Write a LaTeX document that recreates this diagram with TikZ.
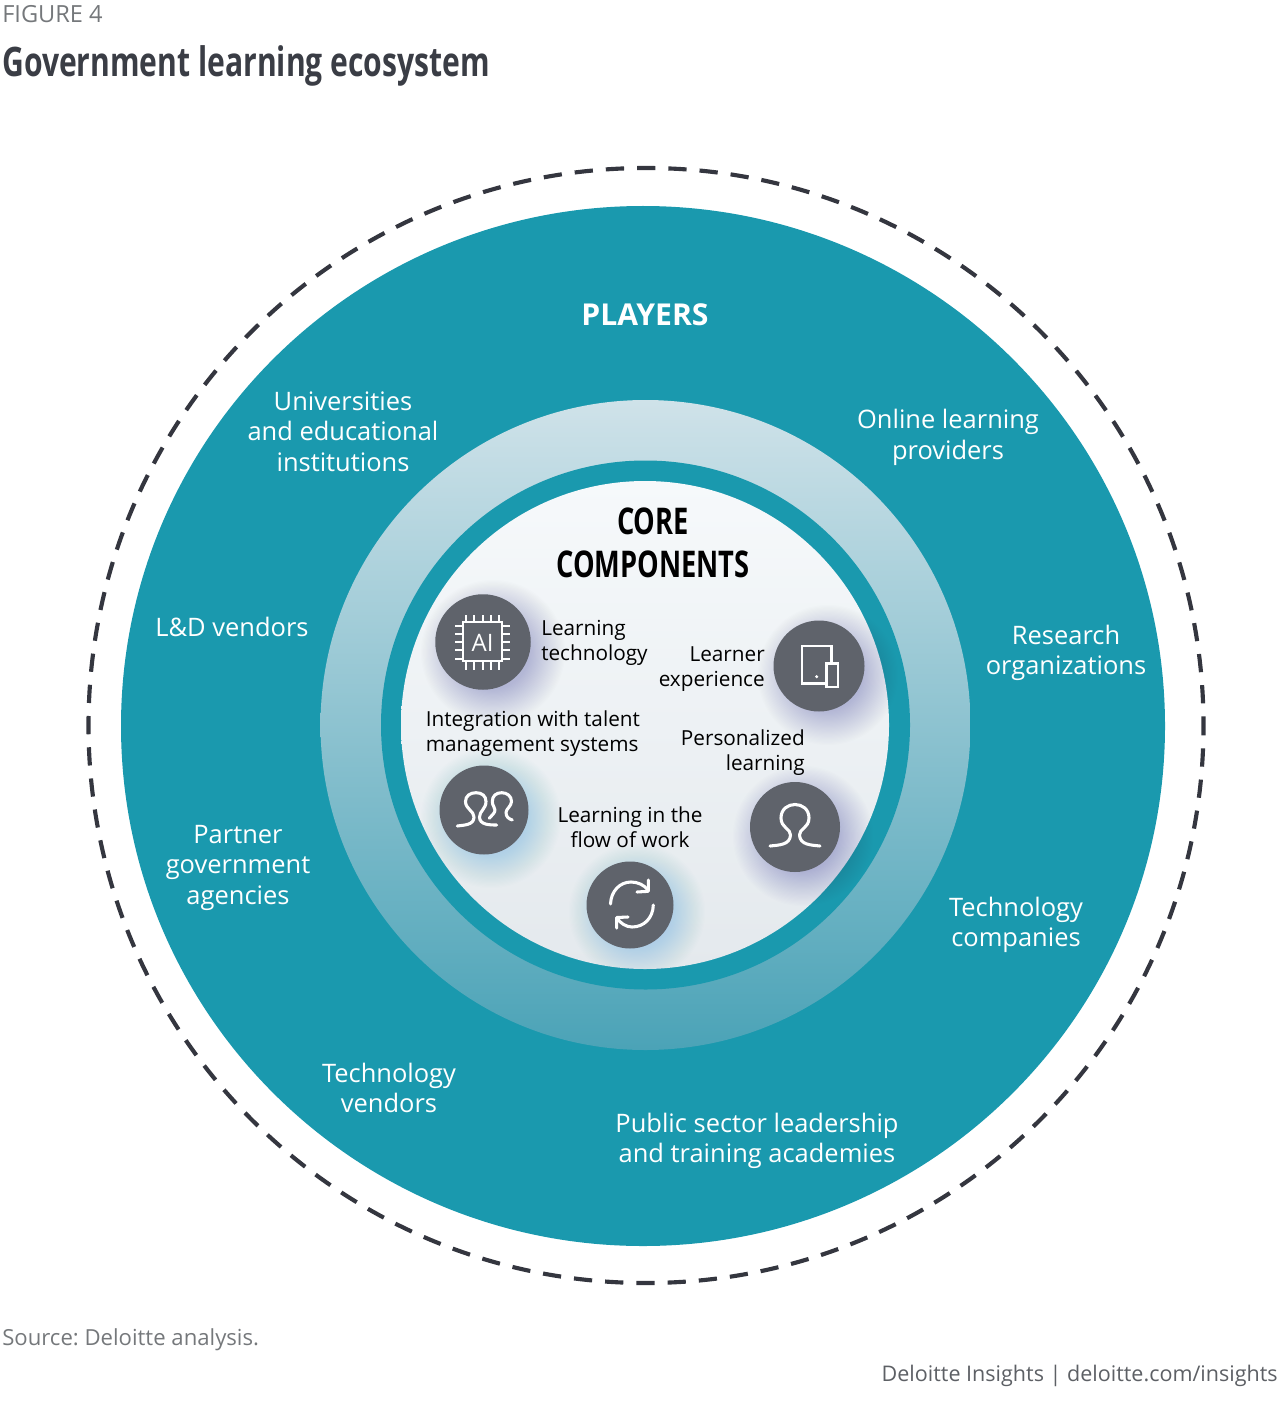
\documentclass[tikz,border=0pt]{standalone}
\usepackage{fontspec}
\setmainfont{Open Sans}
\newfontfamily\condb[FakeStretch=0.74]{Open Sans}
\frenchspacing
\definecolor{teal1}{HTML}{1A99AE}
\definecolor{iconbg}{HTML}{5F636B}
\definecolor{dashc}{HTML}{34363F}
\definecolor{titlec}{HTML}{3A3D45}
\definecolor{graytext}{HTML}{75787B}
\definecolor{credit}{HTML}{5D6065}
\definecolor{ringtop}{HTML}{CFE2E9}
\definecolor{ringbot}{HTML}{4BA3B7}
\definecolor{coretop}{HTML}{F6F9FB}
\definecolor{corebot}{HTML}{E4E9ED}
\definecolor{glowv}{HTML}{5A5A9C}
\definecolor{glowb}{HTML}{5FAEE6}
\tikzset{
  x=0.75pt,y=-0.75pt,
  player/.style={text=white,font=\fontsize{19.1}{22.9}\selectfont,align=center,inner sep=0pt},
  comp/.style={text=black,font=\fontsize{15.55}{18.6}\selectfont,inner sep=0pt},
  icon/.style={circle,fill=iconbg,draw=none,minimum size=#1*0.75pt,inner sep=0pt},
  glyph/.style={draw=white,line width=2.3pt,line cap=round,line join=round},
  thin glyph/.style={draw=white,line width=1.5pt},
}
% soft shadow: stacked translucent discs; x, y, start radius, colour
\newcommand{\glow}[4]{\foreach \gk in {1,...,30}{\fill[#4,opacity=0.013] (#1,#2) circle[radius=(#3+\gk*1.2)*0.75pt];}}
\begin{document}
\begin{tikzpicture}
\useasboundingbox (0,0) rectangle (1280,1419);
\node[anchor=west,inner sep=0pt,text=graytext,font=\fontsize{17.7}{20}\selectfont] (fig) at (2,14) {FIGURE 4};
\node[anchor=west,inner sep=0pt,text=titlec,font=\fontsize{30.5}{32}\condb\bfseries] (title) at (2,66) {Government learning ecosystem};
% discs
\draw[dashc,line width=3.1pt,dash pattern=on 13.7pt off 9.755pt,dash phase=6.85pt] (646,725.5) circle[radius=557.5*0.75pt];
\fill[teal1] (643,726) ellipse[x radius=522*0.75pt,y radius=520*0.75pt];
\shade[top color=ringtop,bottom color=ringbot] (645.5,725) circle[radius=325*0.75pt];
\fill[teal1] (645.5,725) circle[radius=264.5*0.75pt];
\shade[top color=coretop,bottom color=corebot] (645,725) circle[radius=244*0.75pt];
% labels players
\node[text=white,font=\fontsize{22.6}{24}\selectfont\bfseries,inner sep=0pt] (players) at (645,315) {PLAYERS};
\node[player] (univ) at (343,431.5) {Universities\\and educational\\institutions};
\node[player] (online) at (948,437.5) {Online learning\\providers};
\node[player] (research) at (1066,653) {Research\\organizations};
\node[player] (ld) at (232,627) {L\&D vendors};
\node[player] (partner) at (238,867.5) {Partner\\government\\agencies};
\node[player] (techco) at (1016,925) {Technology\\companies};
\node[player] (techv) at (389,1088) {Technology\\vendors};
\node[player] (public) at (757,1141) {Public sector leadership\\and training academies};
% core title
\node[align=center,text=black,font=\fontsize{27.6}{32}\condb\bfseries,inner sep=0pt] (core) at (653,543) {CORE\\COMPONENTS};
% glows
\glow{493}{652}{36}{glowv}
\glow{828}{675}{34}{glowv}
\glow{803}{836}{34}{glowv}
\glow{491}{818}{34}{glowb}
\glow{637}{912}{32}{glowb}
% icons
\node[icon=95.5] (ai) at (483,642) {};
\node[icon=91] (exp) at (819,666) {};
\node[icon=90] (pers) at (795,827) {};
\node[icon=89] (talent) at (484,810) {};
\node[icon=87] (flow) at (630,905) {};
% component labels
\node[comp,anchor=west,align=left] (l1) at (541,642.5) {Learning\\technology};
\node[comp,anchor=east,align=right] (l2) at (765,669) {Learner\\experience};
\node[comp,anchor=west,align=left] (l3) at (425.5,734) {Integration with talent\\management systems};
\node[comp,anchor=east,align=right] (l4) at (805,753) {Personalized\\learning};
\node[comp,align=center] (l5) at (630,827.5) {Learning in the\\flow of work};
% AI icon
\draw[thin glyph] (463.3,622.3) rectangle (501.5,660.7);
\node[text=white,font=\fontsize{18}{20}\selectfont,inner sep=0pt] (aitxt) at (482.5,642.5) {AI};
\foreach \k in {0,...,4}{
  \draw[thin glyph] (465.7+\k*8.4,622.3) -- (465.7+\k*8.4,614.5);
  \draw[thin glyph] (465.7+\k*8.4,660.7) -- (465.7+\k*8.4,670);
  \draw[thin glyph] (463.3,625.5+\k*8.3) -- (455,625.5+\k*8.3);
  \draw[thin glyph] (501.5,625.5+\k*8.3) -- (510,625.5+\k*8.3);
}
% device icon
\draw[white,line width=1.9pt,line join=miter] (825,683.5) -- (802,683.5) -- (802,646) -- (831.7,646) -- (831.7,662.5);
\draw[white,line width=1.9pt] (826.5,663.5) rectangle (838,687);
\fill[white] (816.7,676.7) circle[radius=1.3pt];
% person icon
\draw[glyph] (770,846) .. controls (779,845) and (790,845) .. (790.5,835) .. controls (791,829) and (781,828) .. (781,818) .. controls (781,809) and (788,804.5) .. (795,804.5) .. controls (802,804.5) and (809,809) .. (809,818) .. controls (809,828) and (799,829) .. (799.5,835) .. controls (800,845) and (811,845) .. (820,846);
% two persons
\draw[glyph] (457.3,826) .. controls (463,825) and (474,825.5) .. (474,817) .. controls (474,811) and (465.5,809) .. (465.5,801.5) .. controls (465.5,796) and (470,792.7) .. (476,792.7) .. controls (482,792.7) and (486,796) .. (486,801.5) .. controls (486,809) and (479.5,811) .. (479.5,817) .. controls (479.5,825) and (490,825) .. (496.7,825);
\draw[glyph] (489.3,818.3) .. controls (492,815) and (495,813) .. (495,810) .. controls (495,807) and (492.3,806) .. (492.3,801.5) .. controls (492.3,796) and (496,792.7) .. (501.7,792.7) .. controls (507,792.7) and (511.5,796) .. (511.5,801.5) .. controls (511.5,806) and (506,809) .. (506,812.5) .. controls (506,817) and (509,819) .. (512.3,820);
% cycle icon
\draw[glyph] (610.5,904) .. controls (611,891) and (620,882) .. (631,882) .. controls (638,882) and (644,885) .. (648,890);
\draw[glyph] (648.3,880) -- (648.3,891.3) -- (637,892);
\draw[glyph] (653.3,905) .. controls (653,918) and (644,927) .. (632,927) .. controls (626,927) and (620,923) .. (617,918);
\draw[glyph] (616.7,928) -- (616.7,917.5) -- (628,917);
% footer
\node[anchor=west,inner sep=0pt,text=graytext,font=\fontsize{16.6}{20}\selectfont] (src) at (2,1340) {Source: Deloitte analysis.};
\node[anchor=east,inner sep=0pt,text=credit,font=\fontsize{16.15}{20}\selectfont] (cred) at (1278,1376) {Deloitte Insights | deloitte.com/insights};
\end{tikzpicture}
\end{document}
